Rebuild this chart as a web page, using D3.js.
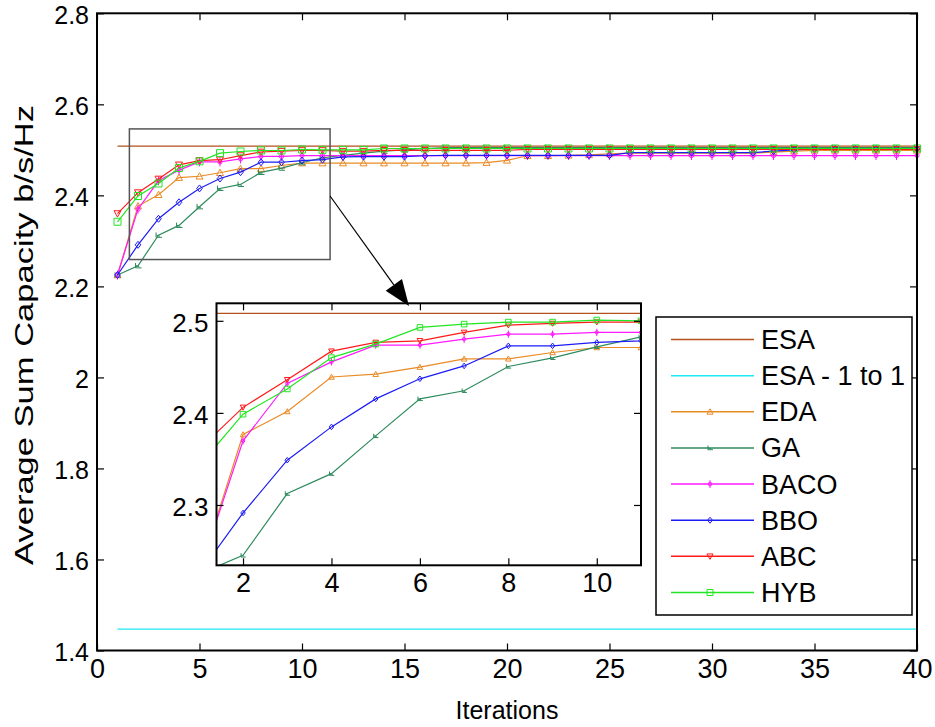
<!DOCTYPE html>
<html>
<head>
<meta charset="utf-8">
<script src="https://cdn.jsdelivr.net/npm/d3@7/dist/d3.min.js"></script>
<style>
  body { margin: 0; background: #fff; }
  text { font-family: "Liberation Sans", Arial, sans-serif; fill: #000; }
</style>
</head>
<body>
<svg id="chart" width="935" height="727"></svg>
<script>
/**
 * Data
 */
const iterations = [1, 2, 3, 4, 5, 6, 7, 8, 9, 10, 11, 12, 13, 14, 15, 16, 17, 18, 19, 20,
    21, 22, 23, 24, 25, 26, 27, 28, 29, 30, 31, 32, 33, 34, 35, 36, 37, 38, 39, 40];

const esa = [2.508, 2.508, 2.508, 2.508, 2.508, 2.508, 2.508, 2.508, 2.508, 2.508,
    2.508, 2.508, 2.508, 2.508, 2.508, 2.508, 2.508, 2.508, 2.508, 2.508,
    2.508, 2.508, 2.508, 2.508, 2.508, 2.508, 2.508, 2.508, 2.508, 2.508,
    2.508, 2.508, 2.508, 2.508, 2.508, 2.508, 2.508, 2.508, 2.508, 2.508];

const esaOneToOne = [1.447, 1.447, 1.447, 1.447, 1.447, 1.447, 1.447, 1.447, 1.447, 1.447,
    1.447, 1.447, 1.447, 1.447, 1.447, 1.447, 1.447, 1.447, 1.447, 1.447,
    1.447, 1.447, 1.447, 1.447, 1.447, 1.447, 1.447, 1.447, 1.447, 1.447,
    1.447, 1.447, 1.447, 1.447, 1.447, 1.447, 1.447, 1.447, 1.447, 1.447];

const eda = [2.225, 2.3765, 2.4015, 2.439, 2.442, 2.4497, 2.4587, 2.4587, 2.4656, 2.471,
    2.471, 2.471, 2.471, 2.471, 2.471, 2.471, 2.471, 2.471, 2.472, 2.477,
    2.487, 2.487, 2.488, 2.489, 2.491, 2.493, 2.493, 2.493, 2.493, 2.493,
    2.493, 2.493, 2.495, 2.497, 2.499, 2.499, 2.499, 2.499, 2.499, 2.499];

const ga = [2.225, 2.2453, 2.3124, 2.334, 2.375, 2.4152, 2.424, 2.4504, 2.4598, 2.4717,
    2.4826, 2.488, 2.493, 2.497, 2.500, 2.503, 2.505, 2.505, 2.505, 2.505,
    2.505, 2.505, 2.505, 2.505, 2.505, 2.505, 2.505, 2.505, 2.505, 2.505,
    2.505, 2.505, 2.505, 2.505, 2.505, 2.505, 2.505, 2.505, 2.505, 2.505];

const baco = [2.225, 2.3696, 2.432, 2.4554, 2.4736, 2.4736, 2.480, 2.4855, 2.4855, 2.4874,
    2.4874, 2.4875, 2.4875, 2.4875, 2.4875, 2.4875, 2.4875, 2.4875, 2.4875, 2.4875,
    2.4875, 2.4875, 2.4875, 2.4875, 2.4875, 2.4875, 2.4875, 2.4875, 2.4875, 2.4875,
    2.4875, 2.4875, 2.4875, 2.4875, 2.4875, 2.4875, 2.4875, 2.4875, 2.4875, 2.4875];

const bbo = [2.225, 2.2913, 2.3486, 2.3848, 2.4152, 2.437, 2.451, 2.4728, 2.4728, 2.4765,
    2.4783, 2.4845, 2.485, 2.485, 2.485, 2.487, 2.488, 2.488, 2.488, 2.488,
    2.488, 2.488, 2.488, 2.488, 2.488, 2.494, 2.494, 2.494, 2.494, 2.494,
    2.494, 2.494, 2.497, 2.500, 2.502, 2.502, 2.502, 2.502, 2.502, 2.502];

const abc = [2.360, 2.406, 2.436, 2.467, 2.4765, 2.4783, 2.4874, 2.4953, 2.4971, 2.4986,
    2.4986, 2.497, 2.497, 2.499, 2.499, 2.499, 2.499, 2.499, 2.499, 2.499,
    2.501, 2.501, 2.501, 2.501, 2.501, 2.501, 2.501, 2.501, 2.501, 2.501,
    2.501, 2.501, 2.501, 2.501, 2.501, 2.501, 2.501, 2.501, 2.501, 2.501];

const hyb = [2.342, 2.3986, 2.426, 2.460, 2.4747, 2.4928, 2.4964, 2.4986, 2.4986, 2.5008,
    2.500, 2.500, 2.500, 2.503, 2.503, 2.503, 2.503, 2.503, 2.503, 2.503,
    2.503, 2.503, 2.503, 2.503, 2.503, 2.503, 2.503, 2.503, 2.503, 2.503,
    2.503, 2.503, 2.503, 2.503, 2.503, 2.503, 2.503, 2.503, 2.503, 2.503];

const mainXTicks = [0, 5, 10, 15, 20, 25, 30, 35, 40];
const mainYTicks = [1.4, 1.6, 1.8, 2, 2.2, 2.4, 2.6, 2.8];
const insetXTicks = [2, 4, 6, 8, 10];
const insetYTicks = [2.3, 2.4, 2.5];

// zoom box drawn on the main axes and the inset limits (data units)
const zoomBoxX = [1.58, 11.37];
const zoomBoxY = [2.259, 2.546];
const insetXDomain = [1.4, 11];
const insetYDomain = [2.2345, 2.519];

// series styles, in plotting order
const series = [
    {name: "ESA", values: esa, color: "#b4501c", marker: null},
    {name: "ESA - 1 to 1", values: esaOneToOne, color: "#1ee8f0", marker: null},
    {name: "EDA", values: eda, color: "#ea8a25", marker: "triUp"},
    {name: "GA", values: ga, color: "#2e8b5e", marker: "ga"},
    {name: "BACO", values: baco, color: "#ff1aff", marker: "baco"},
    {name: "BBO", values: bbo, color: "#1c1cf5", marker: "diamond"},
    {name: "ABC", values: abc, color: "#ff1a1a", marker: "triDown"},
    {name: "HYB", values: hyb, color: "#22e622", marker: "square"}
];

/**
 * Helper Functions
 */
const markerPath = (type, s) => {
    // s = half size in px
    switch (type) {
        case "triUp":
            return `M0,${-s} L${s},${s * 0.8} L${-s},${s * 0.8} Z`;
        case "triDown":
            return `M0,${s} L${s},${-s * 0.8} L${-s},${-s * 0.8} Z`;
        case "diamond":
            return `M0,${-s} L${s * 0.8},0 L0,${s} L${-s * 0.8},0 Z`;
        case "square":
            return `M${-s},${-s} H${s} V${s} H${-s} Z`;
        case "ga":
            return `M${-s * 0.7},${-s * 0.8} V${s * 0.6} H${s} M${-s * 0.7},${-s * 0.1} L${s * 0.4},${s * 0.3}`;
        case "baco":
            return `M0,${-s * 1.3} V${s * 1.3} M${-s * 0.6},0 A${s * 0.6},${s * 0.6} 0 1,0 ${s * 0.6},0 A${s * 0.6},${s * 0.6} 0 1,0 ${-s * 0.6},0`;
    }
    return "";
};

function drawSeries(g, xs, ys, size) {
    series.forEach(s => {
        const pts = iterations.map((it, i) => [it, s.values[i]]);
        g.append("path")
            .datum(pts)
            .attr("fill", "none")
            .attr("stroke", s.color)
            .attr("stroke-width", 1.2)
            .attr("d", d3.line().x(d => xs(d[0])).y(d => ys(d[1])));
        if (s.marker) {
            g.selectAll(null)
                .data(pts)
                .enter()
                .append("path")
                .attr("transform", d => `translate(${xs(d[0])},${ys(d[1])})`)
                .attr("d", markerPath(s.marker, size))
                .attr("fill", "none")
                .attr("stroke", s.color)
                .attr("stroke-width", 1);
        }
    });
}

function drawFrame(g, xs, ys, xTicks, yTicks, xFont, yFont) {
    const [x0, x1] = xs.range();
    const [y0, y1] = ys.range();
    const fmt = d3.format("~g");
    const tick = 7;

    g.append("g")
        .attr("transform", `translate(0,${y0})`)
        .call(d3.axisBottom(xs).tickValues(xTicks).tickSize(-tick).tickPadding(8).tickFormat(fmt))
        .call(a => a.select(".domain").remove())
        .call(a => a.selectAll("text").attr("font-size", xFont).attr("fill", "#000"));
    g.append("g")
        .attr("transform", `translate(0,${y1})`)
        .call(d3.axisTop(xs).tickValues(xTicks).tickSize(-tick).tickFormat(""))
        .call(a => a.select(".domain").remove());
    g.append("g")
        .attr("transform", `translate(${x0},0)`)
        .call(d3.axisLeft(ys).tickValues(yTicks).tickSize(-tick).tickPadding(8).tickFormat(fmt))
        .call(a => a.select(".domain").remove())
        .call(a => a.selectAll("text").attr("font-size", yFont).attr("dy", "0.4em").attr("fill", "#000"));
    g.append("g")
        .attr("transform", `translate(${x1},0)`)
        .call(d3.axisRight(ys).tickValues(yTicks).tickSize(-tick).tickFormat(""))
        .call(a => a.select(".domain").remove());
    g.selectAll(".tick line").attr("stroke", "#000").attr("stroke-width", 1.2);

    g.append("rect")
        .attr("x", x0).attr("y", y1)
        .attr("width", x1 - x0).attr("height", y0 - y1)
        .attr("fill", "none")
        .attr("stroke", "#000")
        .attr("stroke-width", 2);
}

/**
 * Main axes
 */
const svg = d3.select("#chart");

const x = d3.scaleLinear().domain([0, 40]).range([97, 917]);
const y = d3.scaleLinear().domain([1.4, 2.8]).range([650.5, 13.3]);

const mainG = svg.append("g");
drawSeries(mainG, x, y, 3.5);

// zoom rectangle
mainG.append("rect")
    .attr("x", x(zoomBoxX[0]))
    .attr("y", y(zoomBoxY[1]))
    .attr("width", x(zoomBoxX[1]) - x(zoomBoxX[0]))
    .attr("height", y(zoomBoxY[0]) - y(zoomBoxY[1]))
    .attr("fill", "none")
    .attr("stroke", "#555")
    .attr("stroke-width", 1.5);

drawFrame(mainG, x, y, mainXTicks, mainYTicks, 27, 25);

// axis titles
svg.append("text")
    .attr("x", (x.range()[0] + x.range()[1]) / 2)
    .attr("y", 719)
    .attr("text-anchor", "middle")
    .attr("font-size", 25)
    .text("Iterations");

svg.append("text")
    .attr("transform", "translate(33,335) rotate(-90)")
    .attr("text-anchor", "middle")
    .attr("font-size", 26)
    .attr("textLength", 460)
    .attr("lengthAdjust", "spacingAndGlyphs")
    .text("Average Sum Capacity b/s/Hz");

/**
 * Inset
 */
const xi = d3.scaleLinear().domain(insetXDomain).range([216.5, 641]);
const yi = d3.scaleLinear().domain(insetYDomain).range([565.3, 303.3]);

const insetG = svg.append("g");
insetG.append("rect")
    .attr("x", xi.range()[0]).attr("y", yi.range()[1])
    .attr("width", xi.range()[1] - xi.range()[0])
    .attr("height", yi.range()[0] - yi.range()[1])
    .attr("fill", "#fff");

svg.append("defs").append("clipPath")
    .attr("id", "insetClip")
    .append("rect")
    .attr("x", xi.range()[0]).attr("y", yi.range()[1])
    .attr("width", xi.range()[1] - xi.range()[0])
    .attr("height", yi.range()[0] - yi.range()[1]);

const insetPlot = insetG.append("g").attr("clip-path", "url(#insetClip)");
drawSeries(insetPlot, xi, yi, 2.8);
drawFrame(insetG, xi, yi, insetXTicks, insetYTicks, 27, 26);

// arrow from zoom box to inset
const arrowStart = [x(zoomBoxX[1]), 196];
const arrowTip = [409, 306];
const ang = Math.atan2(arrowTip[1] - arrowStart[1], arrowTip[0] - arrowStart[0]);
const headLen = 26, headW = 10;
const bx = arrowTip[0] - headLen * Math.cos(ang), by = arrowTip[1] - headLen * Math.sin(ang);
svg.append("line")
    .attr("x1", arrowStart[0]).attr("y1", arrowStart[1])
    .attr("x2", bx).attr("y2", by)
    .attr("stroke", "#000").attr("stroke-width", 1.2);
svg.append("path")
    .attr("d", `M${arrowTip[0]},${arrowTip[1]}
        L${bx + headW * Math.sin(ang)},${by - headW * Math.cos(ang)}
        L${bx - headW * Math.sin(ang)},${by + headW * Math.cos(ang)} Z`)
    .attr("fill", "#000");

/**
 * Legend
 */
const legend = svg.append("g").attr("transform", "translate(656,317)");
legend.append("rect")
    .attr("width", 256).attr("height", 298)
    .attr("fill", "#fff")
    .attr("stroke", "#000")
    .attr("stroke-width", 1.5);

const rowY = d3.scaleLinear().domain([0, series.length - 1]).range([22.5, 275.5]);
series.forEach((s, i) => {
    const row = legend.append("g").attr("transform", `translate(0,${rowY(i)})`);
    row.append("line")
        .attr("x1", 15).attr("x2", 98)
        .attr("stroke", s.color).attr("stroke-width", 1.5);
    if (s.marker) {
        row.append("path")
            .attr("transform", "translate(54,0)")
            .attr("d", markerPath(s.marker, 3))
            .attr("fill", "none")
            .attr("stroke", s.color)
            .attr("stroke-width", 1);
    }
    row.append("text")
        .attr("x", 105)
        .attr("dy", "0.35em")
        .attr("font-size", 27)
        .text(s.name);
});
</script>
</body>
</html>
